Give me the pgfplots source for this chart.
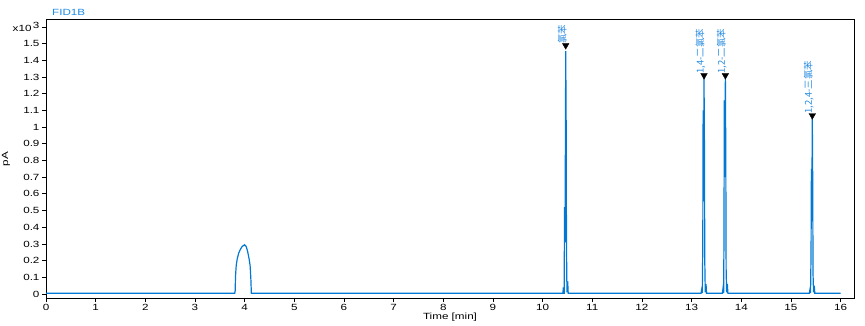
\documentclass[border=0pt]{standalone}
\usepackage{pgfplots}
\pgfplotsset{compat=1.18}
\usepackage{fontspec}
\setmainfont{Liberation Sans}[FakeStretch=1.3]
\newfontfamily\cjk{Noto Sans CJK SC}
\definecolor{sig}{RGB}{0,120,212}
\definecolor{ttl}{RGB}{30,140,230}
\definecolor{lbl}{RGB}{40,140,225}
\begin{document}
\begin{tikzpicture}
\useasboundingbox (-46bp,-28bp) rectangle (819bp,298bp);
\begin{axis}[
  at={(0,0)}, anchor=south west,
  scale only axis, width=808bp, height=278bp,
  xmin=0, xmax=16.27, ymin=-0.024, ymax=1.642,
  axis line style={line width=1bp, black},
  tick align=outside, xtick pos=left, ytick pos=left,
  major tick length=4bp,
  tick style={line width=0.8bp, black},
  xtick={0,1,...,16},
  ytick={0,0.1,0.2,0.3,0.4,0.5,0.6,0.7,0.8,0.9,1,1.1,1.2,1.3,1.4,1.5,1.6},
  yticklabels={0,0.1,0.2,0.3,0.4,0.5,0.6,0.7,0.8,0.9,1,1.1,1.2,1.3,1.4,1.5,{x10\,\raisebox{2.5bp}{3}}},
  /pgf/number format/assume math mode=true,
  ticklabel style={font=\fontsize{9}{10}\selectfont, black},
  xticklabel style={yshift=1bp},
  yticklabel style={xshift=1bp},
  xlabel={Time [min]}, ylabel={pA},
  label style={font=\fontsize{9}{10}\selectfont},
  xlabel style={yshift=5bp},
  ylabel style={yshift=-4bp},
  clip=false,
]
\addplot[sig, line width=1.2bp] coordinates {
(0,0.005) (3.80,0.005) (3.81,0.02) (3.815,0.10) (3.83,0.17) (3.85,0.21) (3.88,0.245) (3.91,0.265)
(3.95,0.285) (4.00,0.295) (4.03,0.285) (4.06,0.255) (4.09,0.21) (4.11,0.17) (4.125,0.09) (4.135,0.005)
(10.41,0.005) (10.415,0.04) (10.42,0.005) (10.435,0.005) (10.44,0.52) (10.45,0.31) (10.46,1.0)
(10.465,1.455) (10.475,0.98) (10.48,0.30) (10.49,0.01) (10.505,0.075) (10.515,0.005)
(13.19,0.005) (13.205,0.03) (13.215,0.005) (13.225,0.3) (13.232,1.10) (13.24,0.6) (13.25,1.295)
(13.258,0.9) (13.265,0.2) (13.275,0.01) (13.29,0.06) (13.30,0.005)
(13.62,0.005) (13.635,0.04) (13.645,0.005) (13.652,0.35) (13.658,1.16) (13.665,0.7) (13.68,1.295)
(13.688,0.85) (13.695,0.15) (13.705,0.01) (13.72,0.06) (13.73,0.005)
(15.37,0.005) (15.385,0.03) (15.395,0.005) (15.405,0.25) (15.412,0.75) (15.42,0.45) (15.43,1.055)
(15.438,0.7) (15.445,0.12) (15.455,0.01) (15.47,0.05) (15.48,0.005) (16,0.005)
};
\addplot[only marks, mark=triangle*, mark size=3.8bp, mark options={rotate=180, black, fill=black},
  nodes near coords, point meta=explicit symbolic,
  every node near coord/.style={font=\cjk\fontsize{9.5}{10}\selectfont, text=lbl, rotate=90, anchor=west, inner sep=0.5bp, xshift=1bp, yshift=3.5bp}]
coordinates {
(10.465,1.49) [氯苯]
(13.25,1.31) [1,4-二氯苯]
(13.68,1.31) [1,2-二氯苯]
(15.43,1.07) [1,2,4-三氯苯]
};
\node[anchor=south west, text=ttl, font=\fontsize{9}{10}\selectfont, inner sep=0pt]
  at ([xshift=6bp, yshift=4bp]rel axis cs:0,1) {FID1B};
\end{axis}
\end{tikzpicture}
\end{document}
